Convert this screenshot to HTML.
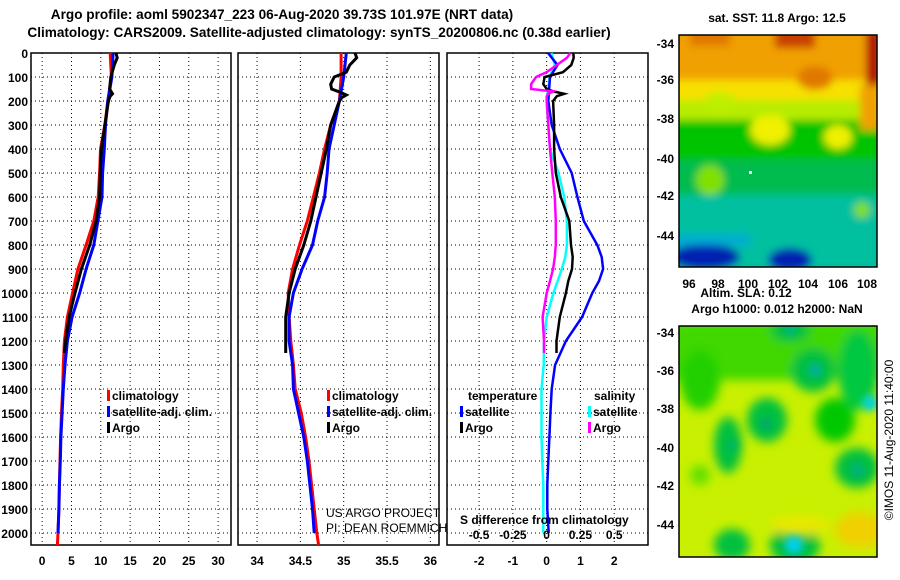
<!DOCTYPE html>
<html><head><meta charset="utf-8"><style>
body{margin:0;background:#fff;}
svg{display:block;font-family:"Liberation Sans",Arial,sans-serif;}
.t{font-weight:bold;font-size:13.6px;}
.tk{font-weight:bold;font-size:12px;}
.lg{font-weight:bold;font-size:12px;}
.grid{stroke:#000;stroke-width:1;stroke-dasharray:1 3;}
</style></head><body>
<svg id="chart" width="900" height="580" viewBox="0 0 900 580">
<defs>
<filter id="bl" x="-10%" y="-10%" width="120%" height="120%"><feGaussianBlur stdDeviation="4"/></filter>
<filter id="bl2" x="-10%" y="-10%" width="120%" height="120%"><feGaussianBlur stdDeviation="5"/></filter>
<clipPath id="c1"><rect x="679" y="35" width="198" height="232"/></clipPath>
<clipPath id="c2"><rect x="679" y="326" width="198" height="231"/></clipPath>
</defs>
<text class="t" x="282" y="19" text-anchor="middle">Argo profile: aoml 5902347_223 06-Aug-2020 39.73S 101.97E (NRT data)</text>
<text class="t" x="319" y="37" text-anchor="middle">Climatology: CARS2009. Satellite-adjusted climatology: synTS_20200806.nc (0.38d earlier)</text>
<g id="panels"></g>

<!-- SST map -->
<g clip-path="url(#c1)">
<rect x="679" y="35" width="198" height="232" fill="#00c070"/>
<g filter="url(#bl)">
<rect x="670" y="25" width="215" height="60" fill="#f0a000"/>
<rect x="670" y="80" width="215" height="25" fill="#f8e000"/>
<rect x="670" y="100" width="215" height="25" fill="#b8ec00"/>
<rect x="670" y="120" width="215" height="45" fill="#00c400"/>
<rect x="670" y="160" width="215" height="40" fill="#00bc50"/>
<rect x="670" y="195" width="215" height="80" fill="#00c0a0"/>
<rect x="690" y="28" width="40" height="18" fill="#e07800"/>
<rect x="775" y="28" width="40" height="20" fill="#c84000"/>
<ellipse cx="815" cy="78" rx="18" ry="12" fill="#e07800"/>
<rect x="866" y="30" width="15" height="55" fill="#b00000"/>
<rect x="860" y="85" width="20" height="45" fill="#f0a000"/>
<ellipse cx="770" cy="130" rx="20" ry="15" fill="#f0f000"/>
<ellipse cx="838" cy="137" rx="14" ry="12" fill="#f0f000"/>
<ellipse cx="710" cy="180" rx="14" ry="15" fill="#80e000"/>
<ellipse cx="862" cy="210" rx="8" ry="8" fill="#80e000"/>
<ellipse cx="720" cy="100" rx="15" ry="8" fill="#c0f000"/>
<ellipse cx="705" cy="257" rx="35" ry="13" fill="#0020b0"/>
<ellipse cx="790" cy="260" rx="22" ry="12" fill="#0020b0"/>
<rect x="670" y="234" width="80" height="12" fill="#00a0f0" opacity="0.6"/>
</g>
<rect x="749" y="171" width="3" height="3" fill="#fff"/>
</g>
<rect x="679" y="35" width="198" height="232" fill="none" stroke="#000" stroke-width="1.5"/>
<text class="lg" x="777" y="22" text-anchor="middle">sat. SST: 11.8 Argo: 12.5</text>
<g class="tk" text-anchor="end">
<text x="674" y="48">-34</text><text x="674" y="84">-36</text><text x="674" y="123">-38</text><text x="674" y="163">-40</text><text x="674" y="200">-42</text><text x="674" y="240">-44</text>
</g>
<g class="tk" text-anchor="middle">
<text x="689" y="288">96</text><text x="718" y="288">98</text><text x="748" y="288">100</text><text x="778" y="288">102</text><text x="808" y="288">104</text><text x="838" y="288">106</text><text x="867" y="288">108</text>
</g>
<text class="lg" x="746" y="297" text-anchor="middle">Altim. SLA: 0.12</text>
<text class="lg" x="777" y="313" text-anchor="middle">Argo h1000: 0.012 h2000: NaN</text>

<!-- SLA map -->
<g clip-path="url(#c2)">
<rect x="679" y="326" width="198" height="231" fill="#c8f000"/>
<g filter="url(#bl2)">
<rect x="670" y="320" width="215" height="60" fill="#40d800"/>
<ellipse cx="700" cy="380" rx="20" ry="30" fill="#20d000"/>
<ellipse cx="728" cy="445" rx="14" ry="28" fill="#00c040"/>
<ellipse cx="767" cy="420" rx="20" ry="22" fill="#00c040"/>
<ellipse cx="813" cy="370" rx="22" ry="22" fill="#00c040"/>
<ellipse cx="835" cy="420" rx="20" ry="22" fill="#00c800"/>
<ellipse cx="858" cy="370" rx="20" ry="40" fill="#00c840"/>
<ellipse cx="857" cy="468" rx="22" ry="20" fill="#00c040"/>
<ellipse cx="732" cy="545" rx="18" ry="16" fill="#00c040"/>
<ellipse cx="795" cy="545" rx="25" ry="20" fill="#00c040"/>
<ellipse cx="790" cy="330" rx="20" ry="12" fill="#00c040"/>
<ellipse cx="700" cy="475" rx="10" ry="10" fill="#60e000"/>
<ellipse cx="860" cy="530" rx="25" ry="18" fill="#f0d000"/>
<ellipse cx="800" cy="525" rx="30" ry="10" fill="#e8e800"/>
</g>
<g filter="url(#bl)">
<circle cx="815" cy="370" r="7" fill="#00b0a0"/>
<circle cx="766" cy="424" r="6" fill="#00a870"/>
<circle cx="870" cy="403" r="8" fill="#00d0e0"/>
<circle cx="858" cy="470" r="7" fill="#00b080"/>
<circle cx="794" cy="545" r="9" fill="#00d0f0"/>
<circle cx="790" cy="330" r="5" fill="#00b0a0"/>
<circle cx="732" cy="445" r="5" fill="#00b070"/>
</g>
</g>
<rect x="679" y="326" width="198" height="231" fill="none" stroke="#000" stroke-width="1.5"/>
<g class="tk" text-anchor="end">
<text x="674" y="337">-34</text><text x="674" y="375">-36</text><text x="674" y="413">-38</text><text x="674" y="452">-40</text><text x="674" y="490">-42</text><text x="674" y="529">-44</text>
</g>
<text x="893" y="440" font-size="12" text-anchor="middle" transform="rotate(-90 893 440)">©IMOS 11-Aug-2020 11:40:00</text>
</svg>
<script>
// ---- data ----
const climDepths = [0,100,200,300,400,500,600,700,800,900,1000,1100,1200,1300,1400,1500,1600,1700,1800,1900,2000,2050];
const satDepths = [0,100,200,300,400,500,600,700,800,900,1000,1100,1200,1300,1400,1500,1600,1700,1800,1900,2000];
const tClim = [11.6,11.8,11.2,10.7,9.95,9.8,9.55,8.8,7.5,6.1,5.2,4.3,3.8,3.6,3.5,3.3,3.15,3.05,2.95,2.85,2.7,2.6];
const tSat = [12.1,11.9,11.2,10.8,10.6,10.3,10.2,9.5,8.8,7.5,6.4,5.1,4.3,3.9,3.6,3.4,3.2,3.1,2.95,2.85,2.7];
const tArgoDepths = [0,20,50,100,150,170,180,200,300,400,500,600,700,800,900,1000,1100,1200,1250];
const tArgo = [12.6,12.8,12.3,11.7,11.5,12.0,11.6,11.3,10.7,10.1,9.9,9.8,9.2,8.1,6.7,5.6,4.6,4.0,3.8];
const sClim = [34.97,34.97,34.95,34.85,34.78,34.72,34.65,34.58,34.49,34.41,34.36,34.37,34.39,34.42,34.44,34.51,34.56,34.60,34.63,34.66,34.69,34.71];
const sSat = [35.03,35.0,34.95,34.89,34.83,34.81,34.78,34.70,34.64,34.52,34.42,34.37,34.37,34.41,34.42,34.48,34.54,34.58,34.61,34.64,34.66];
const sArgoDepths = [0,20,50,80,100,130,150,165,175,185,200,300,400,500,600,700,800,900,1000,1100,1200,1250];
const sArgo = [35.13,35.15,35.07,35.03,34.89,34.85,34.86,34.97,35.03,34.98,34.95,34.85,34.80,34.74,34.68,34.62,34.54,34.44,34.37,34.33,34.33,34.33];
const diffDepths = [0,50,100,200,300,400,500,600,700,800,850,900,950,1000,1100,1200,1300,1400,1500,1600,1700,1800,1900,2000];
const dTSat = [0.04,0.32,0.1,0.05,0.15,0.39,0.74,0.91,1.1,1.5,1.63,1.67,1.55,1.35,1.05,0.57,0.25,0.15,0.11,0.08,0.05,0.02,0.02,0.06];
const dSSat = [0.035,0.06,0.022,0,0.012,0.025,0.088,0.13,0.15,0.15,0.138,0.112,0.082,0.05,0,-0.02,-0.022,-0.038,-0.038,-0.038,-0.032,-0.025,-0.025,-0.025];
const argoDiffDepths = [0,20,50,80,100,130,150,160,170,180,200,300,400,500,600,700,800,850,900,950,1000,1100,1200,1250];
const dTArgo = [0.79,0.8,0.73,0.48,-0.06,-0.1,0.0,0.2,0.52,0.3,0.19,0.22,0.22,0.27,0.42,0.67,0.72,0.77,0.75,0.64,0.57,0.39,0.29,0.29];
const dSArgo = [0.175,0.15,0.075,0,-0.078,-0.115,-0.115,0.048,0.012,0,0,0.012,0.025,0.042,0.06,0.068,0.068,0.06,0.048,0.025,0,-0.03,-0.02,-0.02];
const depthTicks = [0,100,200,300,400,500,600,700,800,900,1000,1100,1200,1300,1400,1500,1600,1700,1800,1900,2000];
const tTicks = [0,5,10,15,20,25,30];
const sTicks = [34,34.5,35,35.5,36];
const dTicks = [-2,-1,0,1,2];
const sDiffTicks = [-0.5,-0.25,0,0.25,0.5];
const sDiffTickLabels = ["-0.5","-0.25","0","0.25","0.5"];

const NS = "http://www.w3.org/2000/svg";
const root = document.getElementById('panels');
const TOP = 53, BOT = 545, DMAX = 2050;
const yScale = d => TOP + d * (BOT - TOP) / DMAX;
function mk(tag, attrs, parent){const e=document.createElementNS(NS,tag);for(const k in attrs)e.setAttribute(k,attrs[k]);(parent||root).appendChild(e);return e;}

const panels = [
 {name:'temperature-panel', x0:31, x1:231, min:-1.9, max:32.2, ticks:tTicks, labels:tTicks.map(String)},
 {name:'salinity-panel', x0:238, x1:439, min:33.78, max:36.1, ticks:sTicks, labels:sTicks.map(String)},
 {name:'difference-panel', x0:447, x1:648, min:-2.95, max:3.0, ticks:dTicks, labels:dTicks.map(String)}
];
panels.forEach(p => { p.xs = v => p.x0 + (v - p.min) * (p.x1 - p.x0) / (p.max - p.min); });

panels.forEach((p, i) => {
  const g = mk('g', {});
  
  
  depthTicks.forEach(d => { const y = yScale(d); const l = mk('line',{x1:p.x0,x2:p.x1,y1:y,y2:y,class:'grid'},g);
      });
  p.ticks.forEach((t, k) => { const x = p.xs(t);
    const l = mk('line',{x1:x,x2:x,y1:TOP,y2:BOT,class:'grid'},g);
     
    const tx = mk('text',{x:x,y:565,'text-anchor':'middle',class:'tk'},g); tx.textContent = p.labels[k];
      });
  const r = mk('rect',{x:p.x0,y:TOP,width:p.x1-p.x0,height:BOT-TOP,fill:'none',stroke:'#000','stroke-width':1.5},g);
   
});
depthTicks.forEach(d => { const t = mk('text',{x:28,y:yScale(d)+5,'text-anchor':'end',class:'tk'}); t.textContent = d;
    });

function line(p, depths, vals, color, name, scale, w){
  const pts = depths.map((d,i)=> p.xs(vals[i]*(scale||1)).toFixed(1)+','+yScale(d).toFixed(1)).join(' ');
  const pl = mk('polyline',{points:pts,fill:'none',stroke:color,'stroke-width':w||3,'stroke-linejoin':'miter'});
  
  
}
const [P1,P2,P3] = panels;
line(P1, climDepths, tClim, '#ff0000', 'temp-climatology-line');
line(P1, satDepths, tSat, '#0000ff', 'temp-satellite-line');
line(P1, tArgoDepths, tArgo, '#000000', 'temp-argo-line');
line(P2, climDepths, sClim, '#ff0000', 'sal-climatology-line');
line(P2, satDepths, sSat, '#0000ff', 'sal-satellite-line');
line(P2, sArgoDepths, sArgo, '#000000', 'sal-argo-line');
line(P3, diffDepths, dSSat, '#00ffff', 'sdiff-satellite-line', 4, 2.5);
line(P3, diffDepths, dTSat, '#0000ff', 'tdiff-satellite-line', 1, 2.5);
line(P3, argoDiffDepths, dTArgo, '#000000', 'tdiff-argo-line', 1, 2.5);
line(P3, argoDiffDepths, dSArgo, '#ff00ff', 'sdiff-argo-line', 4, 2.5);

function legend(x, y, color, label){
  const m = mk('rect',{x:x,y:y-10,width:3,height:11,fill:color});
   
  const t = mk('text',{x:x+5,y:y,class:'lg'}); t.textContent = label;
   
}
legend(107,400,'#ff0000','climatology'); legend(107,416,'#0000ff','satellite-adj. clim.'); legend(107,432,'#000000','Argo');
legend(327,400,'#ff0000','climatology'); legend(327,416,'#0000ff','satellite-adj. clim.'); legend(327,432,'#000000','Argo');
const th = mk('text',{x:468,y:400,class:'lg'}); th.textContent='temperature';
 
const sh = mk('text',{x:594,y:400,class:'lg'}); sh.textContent='salinity';
 
legend(460,416,'#0000ff','satellite'); legend(460,432,'#000000','Argo');
legend(588,416,'#00ffff','satellite'); legend(588,432,'#ff00ff','Argo');

const c1 = mk('text',{x:326,y:517,'font-size':12}); c1.textContent='US ARGO PROJECT';
 
const c2 = mk('text',{x:326,y:532,'font-size':12}); c2.textContent='PI: DEAN ROEMMICH';
 
const st = mk('text',{x:460,y:524,class:'lg'}); st.textContent='S difference from climatology';
 
sDiffTicks.forEach((v,i)=>{ const t = mk('text',{x:P3.xs(v*4),y:539,'text-anchor':'middle',class:'lg'}); t.textContent=sDiffTickLabels[i];
    });
</script>
</body></html>
